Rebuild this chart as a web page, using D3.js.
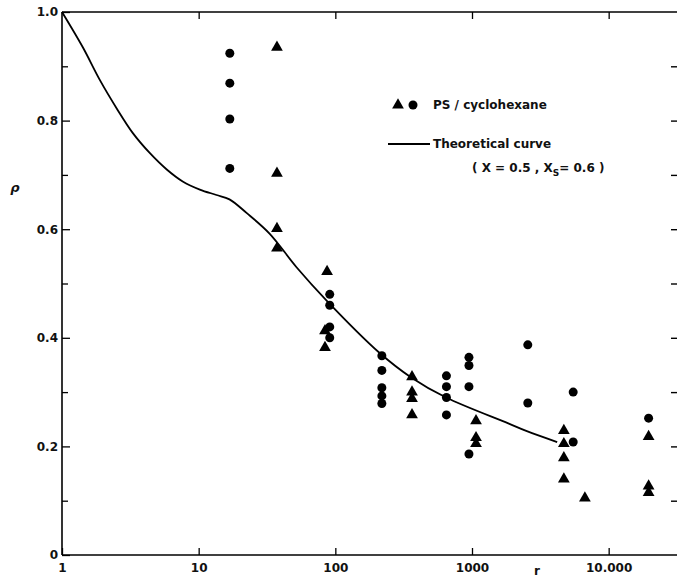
<!DOCTYPE html>
<html>
<head>
<meta charset="utf-8">
<script src="https://cdn.jsdelivr.net/npm/d3@7"></script>
<style>
  body { margin: 0; background: #fff; }
  text { font-family: "DejaVu Sans", sans-serif; fill: #111; }
</style>
</head>
<body>
<div id="chart"></div>
<script>
// circles (PS / cyclohexane)
var circleR = [16.9, 16.9, 16.9, 16.9, 91, 91, 91, 91, 219, 219, 219, 219, 219,
    650, 650, 650, 650, 950, 950, 950, 950, 2560, 2560, 5500, 5500, 19600]
var circleP = [0.924, 0.869, 0.803, 0.712, 0.48, 0.46, 0.42, 0.40, 0.367, 0.34, 0.308, 0.293, 0.279,
    0.33, 0.31, 0.29, 0.258, 0.364, 0.349, 0.31, 0.186, 0.387, 0.28, 0.30, 0.208, 0.252]

// triangles (PS / cyclohexane)
var triR = [37.4, 37.4, 37.4, 37.4, 87, 84, 84, 364, 364, 364, 364,
    1070, 1070, 1070, 4700, 4700, 4700, 4700, 6700, 19600, 19600, 19600]
var triP = [0.935, 0.703, 0.601, 0.565, 0.522, 0.413, 0.382, 0.328, 0.30, 0.288, 0.258,
    0.247, 0.216, 0.205, 0.229, 0.205, 0.179, 0.14, 0.105, 0.218, 0.127, 0.115]

// theoretical curve (X=0.5, Xs=0.6)
var curveR = [1, 1.42, 1.89, 2.52, 3.3, 4.4, 5.84, 7.64, 10.2, 13.5, 16.8, 22.4, 33, 52, 86, 209, 359, 646, 1860, 2520, 4200]
var curveP = [1.0, 0.935, 0.875, 0.822, 0.777, 0.74, 0.71, 0.688, 0.673, 0.663, 0.655, 0.63, 0.592, 0.53, 0.469, 0.373, 0.327, 0.29, 0.242, 0.228, 0.208]

var xTicks = [1, 10, 100, 1000, 10000]
var xTickLabels = ["1", "10", "100", "1000", "10.000"]
var yTicks = [0, 0.2, 0.4, 0.6, 0.8, 1.0]
var yTickLabels = ["0", "0.2", "0.4", "0.6", "0.8", "1.0"]
var yMinor = [0.1, 0.3, 0.5, 0.7, 0.9]

var margin = { top: 12, right: 0, bottom: 25, left: 62 },
    width = 677 - margin.left - margin.right,
    height = 580 - margin.top - margin.bottom;

var svg = d3.select("#chart")
    .append("svg")
    .attr("width", 677)
    .attr("height", 580)
    .append("g")
    .attr("transform", "translate(" + margin.left + "," + margin.top + ")");

var x = d3.scaleLog()
    .domain([1, Math.pow(10, 4.5)])
    .range([0, width]);

var y = d3.scaleLinear()
    .domain([0, 1])
    .range([height, 0]);

// AXES
// bottom
svg.append("g")
    .attr("transform", "translate(0," + height + ")")
    .call(d3.axisBottom(x).tickValues(xTicks).tickSize(-7).tickPadding(8)
        .tickFormat(function (d, i) { return xTickLabels[i]; }))
    .call(function (g) {
        g.select(".domain").attr("stroke-width", 1.6).attr("d", "M0,0H" + width);
        g.selectAll("line").attr("stroke-width", 1.3);
        g.selectAll("text").attr("font-size", 12).attr("font-weight", "bold");
    });

// top
svg.append("g")
    .call(d3.axisTop(x).tickValues(xTicks.slice(1)).tickSize(-7).tickFormat(""))
    .call(function (g) {
        g.select(".domain").attr("stroke-width", 1.6).attr("d", "M0,0H" + width);
        g.selectAll("line").attr("stroke-width", 1.3);
    });

// left
svg.append("g")
    .call(d3.axisLeft(y).tickValues(yTicks).tickSize(-8).tickPadding(4)
        .tickFormat(function (d, i) { return yTickLabels[i]; }))
    .call(function (g) {
        g.select(".domain").attr("stroke-width", 1.6).attr("d", "M0," + height + "V0");
        g.selectAll("line").attr("stroke-width", 1.3);
        g.selectAll("text").attr("font-size", 12).attr("font-weight", "bold")
            .attr("x", -4).attr("dx", 0);
    });

svg.append("g")
    .call(d3.axisLeft(y).tickValues(yMinor).tickSize(-6).tickFormat(""))
    .call(function (g) {
        g.select(".domain").remove();
        g.selectAll("line").attr("stroke-width", 1.3);
    });

// right (ticks only)
svg.append("g")
    .attr("transform", "translate(" + width + ",0)")
    .call(d3.axisRight(y).tickValues(d3.merge([yMinor, [0.2, 0.4, 0.6, 0.8]])).tickSize(-6).tickFormat(""))
    .call(function (g) {
        g.select(".domain").remove();
        g.selectAll("line").attr("stroke-width", 1.4);
    });

// axis titles
svg.append("text")
    .attr("x", 15 - margin.left)
    .attr("y", 192 - margin.top)
    .attr("text-anchor", "middle")
    .attr("font-size", 13)
    .attr("font-weight", "bold")
    .attr("font-style", "italic")
    .text("ρ");

svg.append("text")
    .attr("x", 537 - margin.left)
    .attr("y", 575 - margin.top)
    .attr("text-anchor", "middle")
    .attr("font-size", 12)
    .attr("font-weight", "bold")
    .text("r");

// theoretical curve
var line = d3.line()
    .x(function (d, i) { return x(curveR[i]); })
    .y(function (d, i) { return y(curveP[i]); })
    .curve(d3.curveCatmullRom.alpha(0.5));

svg.append("path")
    .datum(curveP)
    .attr("fill", "none")
    .attr("stroke", "#000")
    .attr("stroke-width", 1.8)
    .attr("d", line);

// data points
svg.selectAll(".dot")
    .data(circleP)
    .enter()
    .append("circle")
    .attr("class", "dot")
    .attr("cx", function (d, i) { return x(circleR[i]); })
    .attr("cy", function (d) { return y(d); })
    .attr("r", 4.5)
    .attr("fill", "#000");

var tri = d3.symbol().type(d3.symbolTriangle).size(60);

svg.selectAll(".tri")
    .data(triP)
    .enter()
    .append("path")
    .attr("class", "tri")
    .attr("transform", function (d, i) { return "translate(" + x(triR[i]) + "," + y(d) + ")"; })
    .attr("d", tri)
    .attr("fill", "#000");

// LEGEND
var legend = svg.append("g")
    .attr("transform", "translate(" + (-margin.left) + "," + (-margin.top) + ")");

legend.append("path")
    .attr("transform", "translate(398,105)")
    .attr("d", tri)
    .attr("fill", "#000");

legend.append("circle")
    .attr("cx", 413)
    .attr("cy", 105)
    .attr("r", 4.5)
    .attr("fill", "#000");

legend.append("text")
    .attr("x", 433)
    .attr("y", 109)
    .attr("font-size", 12)
    .attr("font-weight", "bold")
    .text("PS / cyclohexane");

legend.append("line")
    .attr("x1", 388).attr("x2", 430)
    .attr("y1", 144).attr("y2", 144)
    .attr("stroke", "#000")
    .attr("stroke-width", 1.8);

legend.append("text")
    .attr("x", 433)
    .attr("y", 148)
    .attr("font-size", 12)
    .attr("font-weight", "bold")
    .text("Theoretical curve");

var param = legend.append("text")
    .attr("x", 472)
    .attr("y", 172)
    .attr("font-size", 12)
    .attr("font-weight", "bold");
param.append("tspan").text("( X = 0.5 , X");
param.append("tspan").attr("font-size", 9).attr("dy", 4).text("S");
param.append("tspan").attr("dy", -4).text("= 0.6 )");
</script>
</body>
</html>
